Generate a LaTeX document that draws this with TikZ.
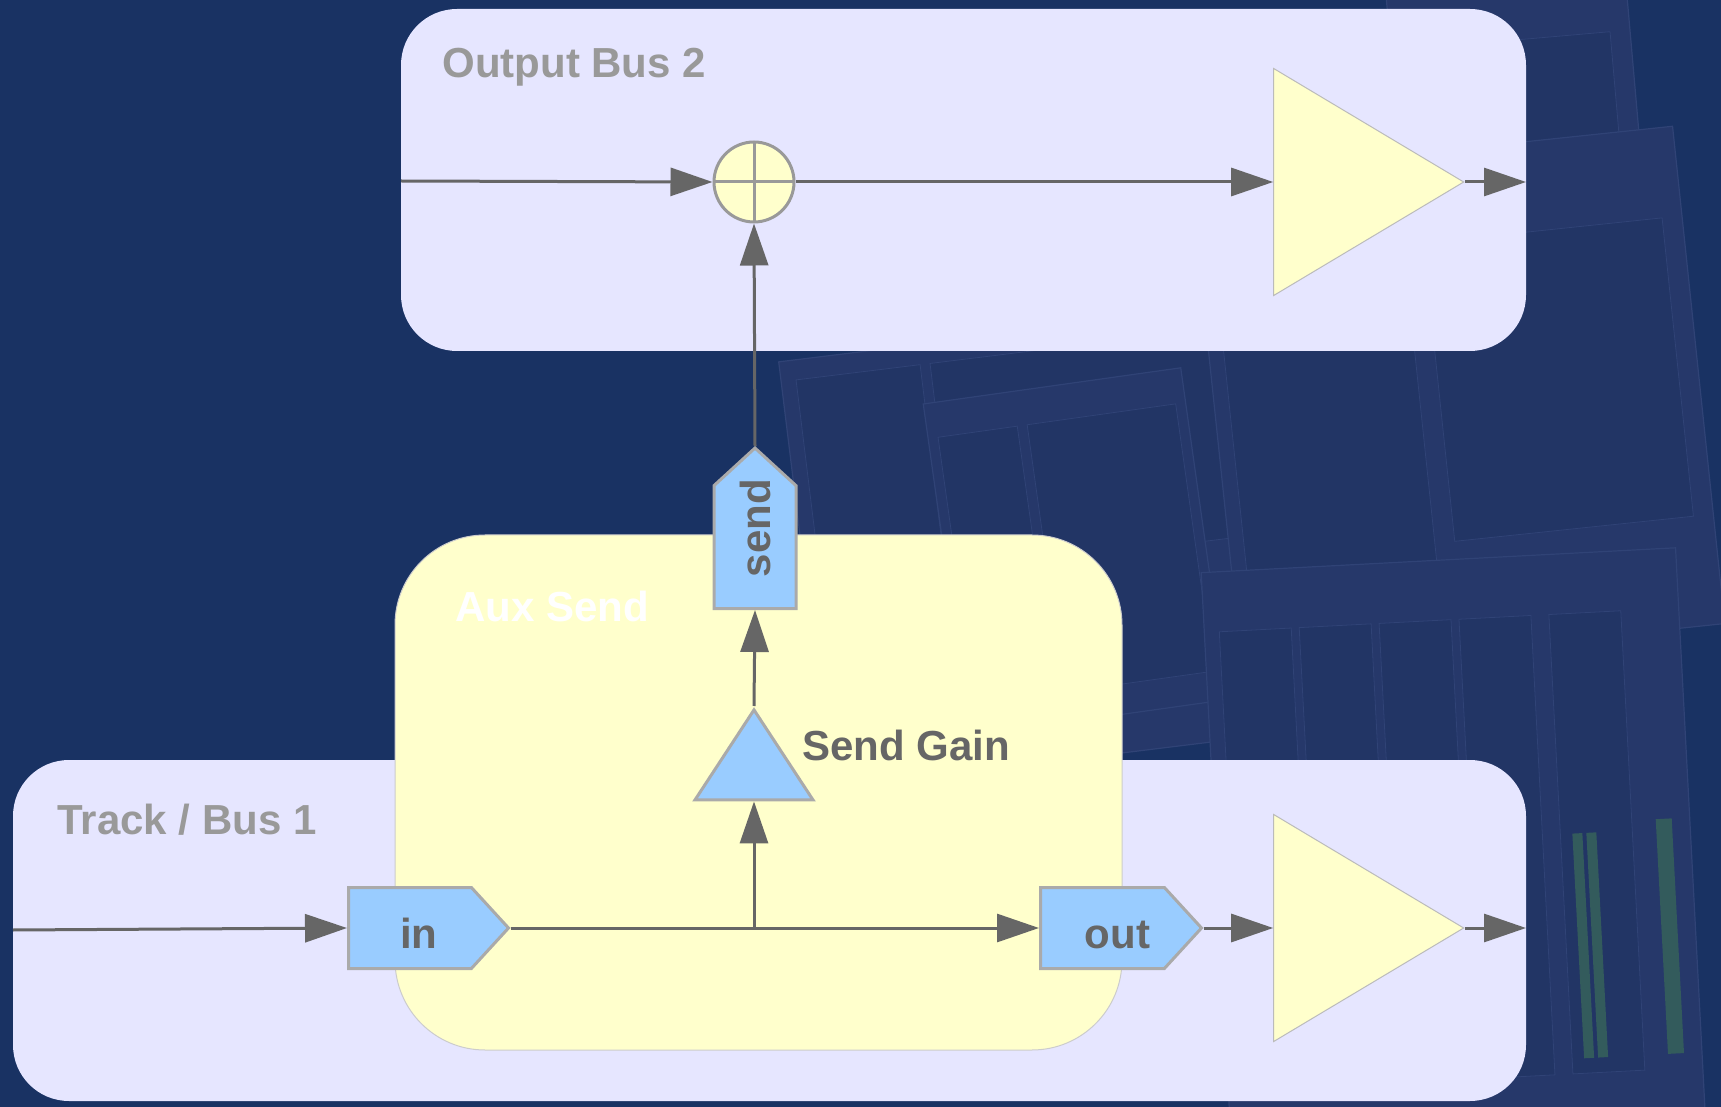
\documentclass[tikz,border=0pt]{standalone}
\usepackage{fontspec}
\setmainfont{Liberation Sans}
\usepackage{tikz}
\usetikzlibrary{arrows.meta, shapes.geometric, shapes.symbols}
\definecolor{NightBlue}{HTML}{193263}
\definecolor{PanelBlue}{HTML}{26386A}
\definecolor{PanelEdge}{HTML}{304376}
\definecolor{PanelDark}{HTML}{223565}
\definecolor{Lavender}{HTML}{E6E6FF}
\definecolor{PaleYellow}{HTML}{FFFFCC}
\definecolor{PortBlue}{HTML}{99CCFF}
\definecolor{WireGray}{HTML}{666666}
\definecolor{EdgeGray}{HTML}{AAAAAA}
\definecolor{LabelGray}{HTML}{999999}
\definecolor{MeterGreen}{HTML}{335B5C}
\newcommand{\bigbf}{\fontsize{21}{25}\selectfont\bfseries}

\begin{document}
\begin{tikzpicture}[x=0.5pt, y=-0.5pt,
  wire/.style={draw=WireGray, line width=1.5pt, -{Triangle[length=21pt, width=14pt]}},
  port/.style={signal, signal pointer angle=95, fill=PortBlue, draw=EdgeGray,
    line width=1.5pt, text=WireGray, font=\bigbf, inner sep=0pt},
  flatport/.style={port, signal to=east, anchor=west, minimum height=40.5pt,
    text height=20pt, text depth=0pt},
  amp/.style={isosceles triangle, isosceles triangle stretches, fill=PaleYellow,
    draw=EdgeGray!80, line width=0.5pt, inner sep=0pt},
  boxlabel/.style={anchor=base west, font=\bigbf, text=LabelGray, inner sep=0pt},
  panel/.style={fill=PanelBlue, draw=PanelEdge, line width=0.6pt},
  innerpanel/.style={fill=PanelDark, draw=PanelEdge, line width=0.4pt}]

  \fill[NightBlue] (0,0) rectangle (1721,1107);
  \useasboundingbox (0,0) rectangle (1721,1107);

  % windows of the sequencer behind the diagram
  \begin{scope}[rotate around={5:(1520,150)}]
    \draw[panel] (1400,-60) rectangle (1640,330);
    \draw[innerpanel] (1420,40) rectangle (1620,320);
  \end{scope}
  \begin{scope}[rotate around={7:(1050,520)}]
    \draw[panel] (800,330) rectangle (1300,760);
    \draw[innerpanel] (815,350) rectangle (940,720);
    \draw[innerpanel] (950,350) rectangle (1290,560);
  \end{scope}
  \begin{scope}[rotate around={8:(1070,550)}]
    \draw[panel] (945,385) rectangle (1205,720);
    \draw[innerpanel] (955,420) rectangle (1035,620);
    \draw[innerpanel] (1045,420) rectangle (1195,690);
  \end{scope}
  \begin{scope}[rotate around={6:(1460,400)}]
    \draw[panel] (1215,150) rectangle (1700,650);
    \draw[innerpanel] (1230,240) rectangle (1420,560);
    \draw[innerpanel] (1440,240) rectangle (1680,540);
  \end{scope}
  \begin{scope}[rotate around={3:(1450,830)}]
    \draw[panel] (1215,560) rectangle (1690,1140);
    \foreach \strip in {1230,1310,1390,1470,1560}
      \draw[innerpanel] (\strip,620) rectangle ++(72,460);
    \fill[MeterGreen] (1572,840) rectangle (1582,1065);
    \fill[MeterGreen] (1586,840) rectangle (1596,1065);
    \fill[MeterGreen] (1656,830) rectangle (1672,1065);
  \end{scope}

  % bus, track and send areas
  \fill[Lavender, rounded corners=28pt] (401,9) rectangle (1526,351);
  \fill[Lavender, rounded corners=28pt] (13,760) rectangle (1526,1101);
  \filldraw[fill=PaleYellow, draw=EdgeGray!60, line width=0.5pt, rounded corners=45pt]
    (395,535) rectangle (1122,1050);

  \node[boxlabel] (busLabel) at (442,78) {Output Bus 2};
  \node[boxlabel] (trackLabel) at (57,834) {Track / Bus 1};
  \node[boxlabel, text=white] (auxLabel) at (455,621) {Aux Send};
  \node[boxlabel, text=WireGray] (gainLabel) at (802,760) {Send Gain};

  % ports
  \node[flatport, minimum width=80pt] (in) at (347,928)
    {\hspace*{4.5pt}in\hspace*{-4.5pt}};
  \node[flatport, minimum width=80.5pt] (out) at (1039,928)
    {\hspace*{7.5pt}out\hspace*{-7.5pt}};
  \node[port, signal to=north, anchor=south, minimum width=41pt, minimum height=68.5pt]
    (send) at (755,610) {\rotatebox{90}{\hspace*{9.5pt}send\hspace*{-9.5pt}}};

  % summing point and gains
  \node[circle, minimum size=40pt, inner sep=0pt, fill=PaleYellow, draw=LabelGray,
    line width=1.5pt, path picture={
      \draw[LabelGray, line width=1.5pt]
        (path picture bounding box.north) -- (path picture bounding box.south)
        (path picture bounding box.west) -- (path picture bounding box.east);}]
    (sum) at (754,182) {};
  \node[amp, minimum width=113.5pt, minimum height=95pt, anchor=apex] (busAmp) at (1465,182) {};
  \node[amp, minimum width=113.5pt, minimum height=95pt, anchor=apex] (trackAmp) at (1465,928) {};
  \node[amp, shape border rotate=90, fill=PortBlue, draw=EdgeGray, line width=1.5pt,
    minimum width=59pt, minimum height=45pt, anchor=apex] (gain) at (754,706) {};

  \coordinate (busIn) at (401,181);
  \coordinate (busOut) at (1526,182);
  \coordinate (trackIn) at (13,930);
  \coordinate (trackOut) at (1526,928);
  \coordinate (tap) at (gain.south |- in.east);

  % signal flow
  \draw[wire] (trackIn) -- (in.west);
  \draw[wire] (in.east) -- (out.west);
  \draw[wire] (tap) -- (gain.south);
  \draw[wire] (gain.apex) -- (send.south);
  \draw[wire] (send.north) -- (sum.south);
  \draw[wire] (busIn) -- (sum.west);
  \draw[wire] (sum.east) -- (busAmp.west);
  \draw[wire] (busAmp.apex) -- (busOut);
  \draw[wire] (out.east) -- (trackAmp.west);
  \draw[wire] (trackAmp.apex) -- (trackOut);
\end{tikzpicture}
\end{document}
